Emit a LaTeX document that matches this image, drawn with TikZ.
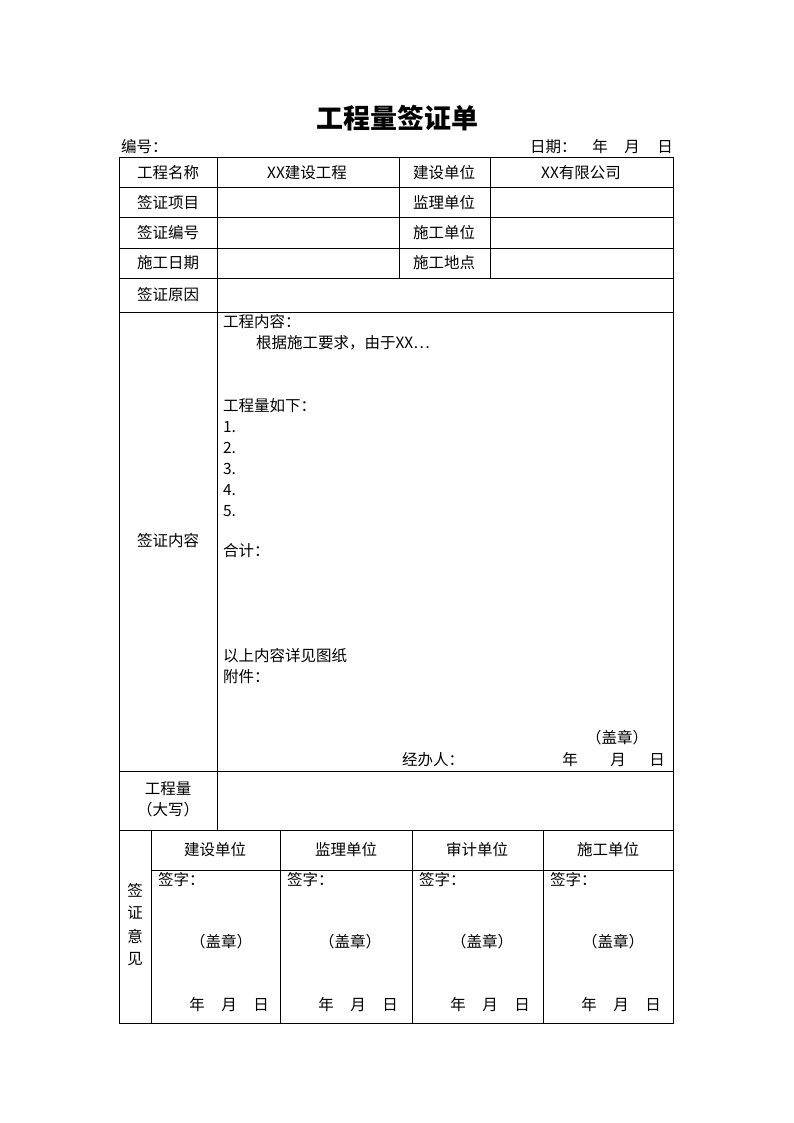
\documentclass[tikz,border=0pt]{standalone}
\usepackage{fontspec}
\newfontfamily\cjk{Noto Sans CJK SC}
\begin{document}
\begin{tikzpicture}[x=1pt,y=-1pt,
  every node/.style={inner sep=0pt,outer sep=0pt,font=\cjk\fontsize{15.5}{18}\selectfont},
  grid/.style={line width=1pt,black},
  lt/.style={anchor=west},
  ttl/.style={font=\cjk\bfseries\fontsize{27}{30}\selectfont}]
\fill[white] (0,0) rectangle (794,1123);
\useasboundingbox (0,0) rectangle (794,1123);
% title
\node[ttl] (title) at (397,118) {工程量签证单};
\node[lt] (bh) at (121,147) {编号：};
\node[lt] (dt) at (530,147) {日期：};
\node (dy) at (600,147) {年};
\node (dm) at (632,147) {月};
\node (dd) at (665,147) {日};
% outer frame and lines
\draw[grid] (119,158) rectangle (673,1023);
\foreach \y in {188,218,248,278} \draw[grid] (119,\y) -- (673,\y);
\draw[grid] (119,312) -- (673,312);
\draw[grid] (119,771) -- (673,771);
\draw[grid] (119,830) -- (673,830);
\draw[grid] (151,870) -- (673,870);
\draw[grid] (217,158) -- (217,830);
\draw[grid] (399,158) -- (399,278);
\draw[grid] (490,158) -- (490,278);
\draw[grid] (151,830) -- (151,1023);
\draw[grid] (280,830) -- (280,1023);
\draw[grid] (412,830) -- (412,1023);
\draw[grid] (543,830) -- (543,1023);
% upper rows
\node (a1) at (168,173) {工程名称};
\node (b1) at (307,173) {XX建设工程};
\node (c1) at (444,173) {建设单位};
\node (d1) at (581,173) {XX有限公司};
\node (a2) at (168,203) {签证项目};
\node (c2) at (444,203) {监理单位};
\node (a3) at (168,233) {签证编号};
\node (c3) at (444,233) {施工单位};
\node (a4) at (168,263) {施工日期};
\node (c4) at (444,263) {施工地点};
\node (a5) at (168,295) {签证原因};
\node (a6) at (168,541) {签证内容};
% content
\node[lt] (t1) at (223,322) {工程内容：};
\node[lt] (t2) at (256,343) {根据施工要求，由于XX…};
\node[lt] (t3) at (223,406) {工程量如下：};
\node[lt] (n1) at (223,427) {1.};
\node[lt] (n2) at (223,448) {2.};
\node[lt] (n3) at (223,469) {3.};
\node[lt] (n4) at (223,490) {4.};
\node[lt] (n5) at (223,511) {5.};
\node[lt] (hj) at (223,551) {合计：};
\node[lt] (yt) at (223,656) {以上内容详见图纸};
\node[lt] (fj) at (223,677) {附件：};
\node (gz) at (617,738) {（盖章）};
\node[lt] (jb) at (402,760) {经办人：};
\node (y0) at (570,760) {年};
\node (m0) at (618,760) {月};
\node (d0) at (657,760) {日};
\node (gcl) at (168,789) {工程量};
\node (dx) at (168,810) {（大写）};
% bottom section
\node (v1) at (135,890) {签};
\node (v2) at (135,913) {证};
\node (v3) at (135,936) {意};
\node (v4) at (135,959) {见};
\foreach \cx/\nm/\lab in {215/h1/建设单位,346/h2/监理单位,477/h3/审计单位,608/h4/施工单位}
  \node (\nm) at (\cx,850) {\lab};
\foreach \lx/\nm in {151/s1,280/s2,412/s3,543/s4}{
  \node[lt] (\nm) at (\lx+7,880) {签字：};
  \node (\nm g) at (\lx+70,942) {（盖章）};
  \node (\nm y) at (\lx+46,1005) {年};
  \node (\nm m) at (\lx+78,1005) {月};
  \node (\nm d) at (\lx+110,1005) {日};
}
\end{tikzpicture}
\end{document}
